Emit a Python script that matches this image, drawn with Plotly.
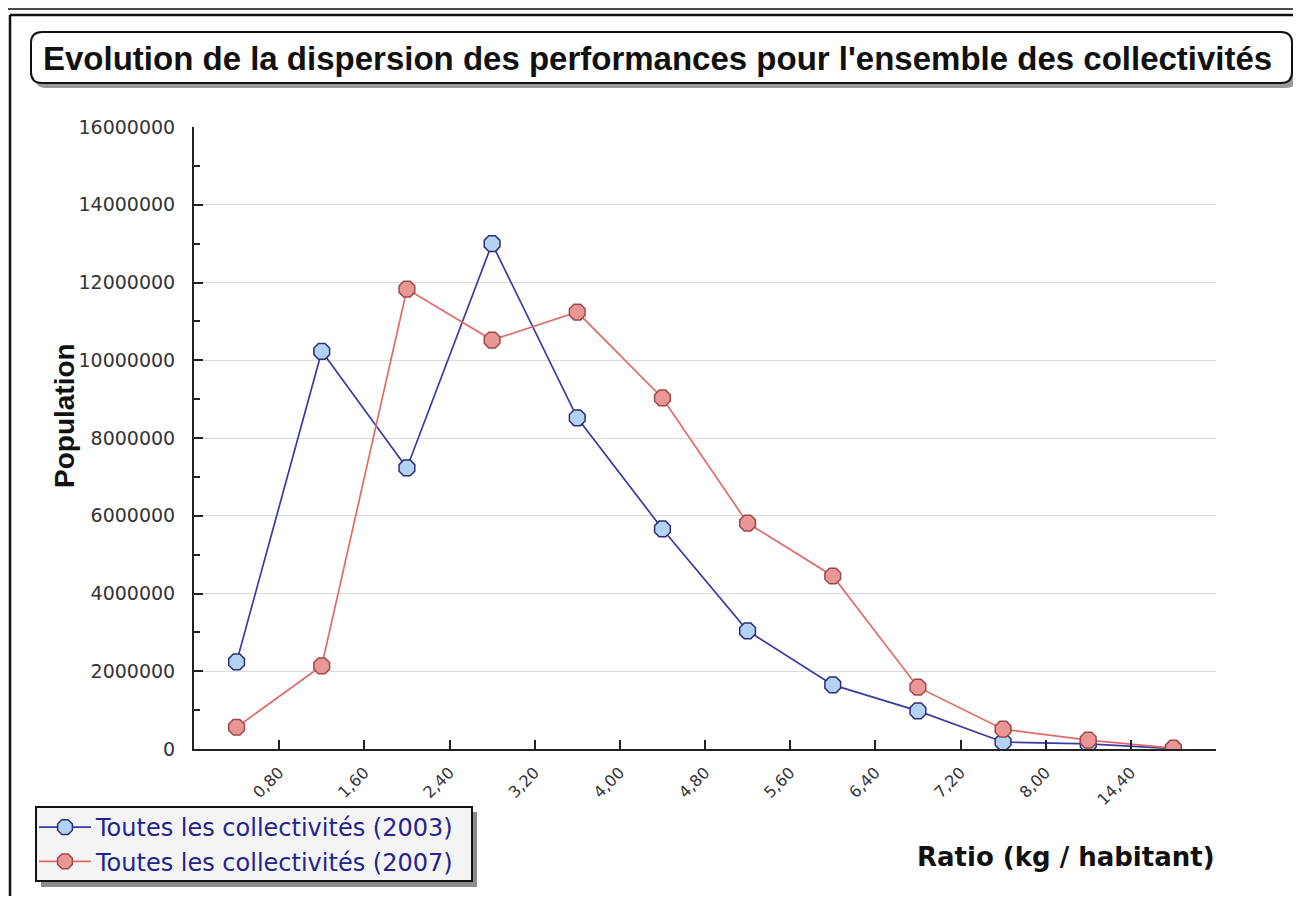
import numpy as np
import plotly.graph_objects as go

# bin boundary labels on the x axis (ratio kg / habitant)
tick_labels = ["0,80", "1,60", "2,40", "3,20", "4,00", "4,80", "5,60", "6,40", "7,20", "8,00", "14,40", ""]
# population per ratio bin
pop_2003 = [2240000, 10230000, 7230000, 13000000, 8520000, 5660000, 3040000, 1650000, 980000, 180000, 130000, 10000]
pop_2007 = [560000, 2140000, 11830000, 10520000, 11240000, 9030000, 5810000, 4450000, 1590000, 510000, 230000, 20000]
series_names = ["Toutes les collectivités (2003)", "Toutes les collectivités (2007)"]
y_ticks = [0, 2000000, 4000000, 6000000, 8000000, 10000000, 12000000, 14000000, 16000000]

# bins are drawn between the labelled boundaries
x_pos = np.arange(len(pop_2003)) + 0.5
tick_pos = np.arange(1, len(tick_labels) + 1)

# page pixel -> paper helpers (figure sits 8px inside the page)
X0, X1, Y0, Y1 = 194, 1216, 127, 749


def px(x):
    return (x - X0) / (X1 - X0)


def py(y):
    return (Y1 - y) / (Y1 - Y0)


def rounded_rect(x0, y0, x1, y1, r):
    rx = r / (X1 - X0)
    ry = r / (Y1 - Y0)
    a, b, c, d = px(x0), py(y0), px(x1), py(y1)
    return (f"M {a + rx} {b} L {c - rx} {b} Q {c} {b} {c} {b - ry} "
            f"L {c} {d + ry} Q {c} {d} {c - rx} {d} L {a + rx} {d} "
            f"Q {a} {d} {a} {d + ry} L {a} {b - ry} Q {a} {b} {a + rx} {b} Z")


fig = go.Figure()
fig.add_trace(go.Scatter(
    x=x_pos, y=pop_2003, name=series_names[0], mode="lines+markers",
    line=dict(color="#3a3aa2", width=1.7),
    marker=dict(symbol="octagon", size=17, color="#b4d2f4", line=dict(color="#2c2c78", width=1.5)),
))
fig.add_trace(go.Scatter(
    x=x_pos, y=pop_2007, name=series_names[1], mode="lines+markers",
    line=dict(color="#e06a6a", width=1.7),
    marker=dict(symbol="octagon", size=17, color="#e89696", line=dict(color="#a04848", width=1.5)),
))

fig.update_xaxes(
    range=[0, len(tick_labels)], tickvals=tick_pos, ticktext=tick_labels,
    tickangle=-45, ticks="inside", ticklen=9, tickwidth=2, tickcolor="#222",
    showline=True, linecolor="#222", linewidth=2, showgrid=False, zeroline=False,
    tickfont=dict(family="DejaVu Sans", size=16, color="#333"), ticklabelstandoff=6,
)
fig.update_yaxes(
    range=[0, 16000000], tickvals=y_ticks, tickformat="d",
    ticks="inside", ticklen=9, tickwidth=2, tickcolor="#222",
    minor=dict(dtick=1000000, ticks="inside", ticklen=6, tickwidth=2, tickcolor="#222", showgrid=False),
    showline=True, linecolor="#222", linewidth=2, showgrid=True, gridcolor="#dadada", gridwidth=1,
    zeroline=False, tickfont=dict(family="DejaVu Sans", size=19, color="#333"), ticklabelstandoff=13,
)

shapes = [
    # screenshot frame
    dict(type="line", xref="paper", yref="paper", x0=px(0), x1=px(1301), y0=py(9), y1=py(9),
         line=dict(color="#111", width=1.5)),
    dict(type="line", xref="paper", yref="paper", x0=px(10), x1=px(1301), y0=py(15), y1=py(15),
         line=dict(color="#111", width=2.5)),
    dict(type="line", xref="paper", yref="paper", x0=px(10), x1=px(10), y0=py(15), y1=py(904),
         line=dict(color="#111", width=2.5)),
    # title box with shadow
    dict(type="path", xref="paper", yref="paper", path=rounded_rect(35, 37, 1297, 88, 11),
         fillcolor="#9a9a9a", line=dict(width=0)),
    dict(type="path", xref="paper", yref="paper", path=rounded_rect(31, 32, 1292, 83, 11),
         fillcolor="white", line=dict(color="#111", width=2)),
    # legend box with shadow
    dict(type="rect", xref="paper", yref="paper", x0=px(41), x1=px(477), y0=py(812), y1=py(887),
         fillcolor="#8c8c8c", line=dict(width=0)),
    dict(type="rect", xref="paper", yref="paper", x0=px(36), x1=px(472), y0=py(807), y1=py(881),
         fillcolor="#f4f4f4", line=dict(color="#111", width=2)),
]

annotations = [
    dict(text="<b>Evolution de la dispersion des performances pour l'ensemble des collectivités</b>",
         xref="paper", yref="paper", x=px(657), y=py(58), showarrow=False,
         xanchor="center", yanchor="middle", font=dict(family="Liberation Sans", size=33, color="#111")),
    dict(text="<b>Population</b>", xref="paper", yref="paper", x=px(64), y=py(416), textangle=-90,
         showarrow=False, xanchor="center", yanchor="middle",
         font=dict(family="Liberation Sans", size=28, color="#111")),
    dict(text="<b>Ratio (kg / habitant)</b>", xref="paper", yref="paper", x=px(1217), y=py(857),
         showarrow=False, xanchor="right", yanchor="middle",
         font=dict(family="DejaVu Sans", size=26, color="#111")),
]

fig.update_layout(
    width=1285, height=888, autosize=False,
    margin=dict(l=186, r=77, t=119, b=147),
    paper_bgcolor="white", plot_bgcolor="white",
    shapes=shapes, annotations=annotations,
    showlegend=True,
    legend=dict(
        x=px(34), y=py(805), xanchor="left", yanchor="top",
        bgcolor="rgba(0,0,0,0)", borderwidth=0, itemwidth=52,
        font=dict(family="DejaVu Sans", size=24, color="#24248c"),
        tracegroupgap=0,
    ),
)

fig.write_html("out.html")
